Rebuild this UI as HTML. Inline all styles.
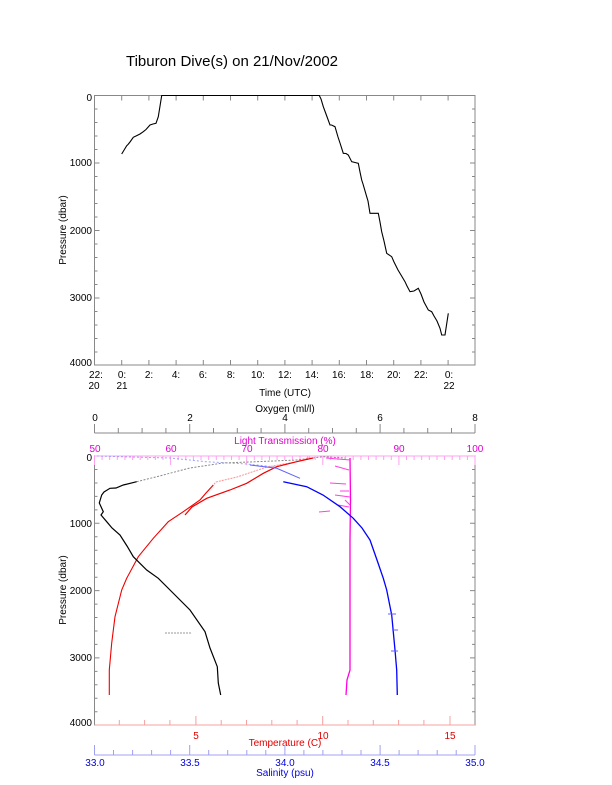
<!DOCTYPE html>
<html><head><meta charset="utf-8"><style>
html,body{margin:0;padding:0;background:#fff}
svg{display:block;font-family:"Liberation Sans",sans-serif}
</style></head><body>
<svg width="612" height="785" viewBox="0 0 612 785" xmlns="http://www.w3.org/2000/svg">
<rect width="612" height="785" fill="#fff"/>
<text x="232" y="66" font-size="15" text-anchor="middle">Tiburon Dive(s) on 21/Nov/2002</text>

<!-- TOP PLOT -->
<rect x="94.5" y="95.5" width="380.5" height="269.5" fill="none" stroke="#888"/>
<g stroke="#888" stroke-width="1">
<path d="M94.5 95.5h5M94.5 109h3M94.5 122.5h3M94.5 136h3M94.5 149.5h3M94.5 163h5M94.5 176.5h3M94.5 190h3M94.5 203.5h3M94.5 217h3M94.5 230.5h5M94.5 244h3M94.5 257.5h3M94.5 271h3M94.5 284.5h3M94.5 298h5M94.5 311.5h3M94.5 325h3M94.5 338.5h3M94.5 352h3
M475 95.5h-5M475 109h-3M475 122.5h-3M475 136h-3M475 149.5h-3M475 163h-5M475 176.5h-3M475 190h-3M475 203.5h-3M475 217h-3M475 230.5h-5M475 244h-3M475 257.5h-3M475 271h-3M475 284.5h-3M475 298h-5M475 311.5h-3M475 325h-3M475 338.5h-3M475 352h-3"/>
<path d="M121.7 365v-5M148.9 365v-5M176.1 365v-5M203.3 365v-5M230.5 365v-5M257.7 365v-5M284.9 365v-5M312.1 365v-5M339.3 365v-5M366.5 365v-5M393.7 365v-5M420.9 365v-5M448.1 365v-5
M121.7 95.5v5M148.9 95.5v5M176.1 95.5v5M203.3 95.5v5M230.5 95.5v5M257.7 95.5v5M284.9 95.5v5M312.1 95.5v5M339.3 95.5v5M366.5 95.5v5M393.7 95.5v5M420.9 95.5v5M448.1 95.5v5"/>
</g>
<g font-size="10" text-anchor="end">
<text x="92" y="101">0</text><text x="92" y="166">1000</text><text x="92" y="234">2000</text><text x="92" y="301">3000</text><text x="92" y="366">4000</text>
</g>
<g font-size="10" text-anchor="middle">
<text x="96" y="378">22:</text><text x="94" y="389">20</text>
<text x="122" y="378">0:</text><text x="122" y="389">21</text>
<text x="149" y="378">2:</text><text x="176" y="378">4:</text><text x="203" y="378">6:</text><text x="231" y="378">8:</text>
<text x="258" y="378">10:</text><text x="285" y="378">12:</text><text x="312" y="378">14:</text><text x="339" y="378">16:</text>
<text x="367" y="378">18:</text><text x="394" y="378">20:</text><text x="421" y="378">22:</text>
<text x="449" y="378">0:</text><text x="449" y="389">22</text>
<text x="285" y="396">Time (UTC)</text>
</g>
<text transform="translate(66,230) rotate(-90)" font-size="10" text-anchor="middle">Pressure (dbar)</text>
<line x1="162" y1="95.5" x2="319" y2="95.5" stroke="#f4a0a0" stroke-width="1"/>
<polyline fill="none" stroke="#000" stroke-width="1.1" points="121.7,154 123.5,151 126.7,145.7 128,144.5 130,142 133.3,137.3 136,136 140,134 143.3,131.7 146,129.5 150,125 153,124 156,123.3 158.3,116.7 161.7,95.5 319.3,95.5 321,99 323.3,106.7 326,114 330,125 331.5,125 335,126.7 338,137 340,143 343.3,153.3 346,153.5 348.3,155 351.7,161.7 355,162.5 358.3,163.3 360,172 361.7,180 363,184 366.7,196.7 368,201 370,213.3 374,213.3 378.3,213.3 380,222 381.7,231.7 384,241 386.7,253.3 391.7,256.7 394,262 398,270 401,275 405,281.7 407,286 410,291.7 414,291 418.3,288.3 421,294 424,302 428.3,310 431.7,311.7 434,316 437,321 440,328.3 441.7,335 445,335 448.3,313.3"/>

<!-- BOTTOM PLOT -->
<rect x="94.5" y="456" width="380.5" height="269" fill="none" stroke="#888"/>
<line x1="94.5" y1="456" x2="475" y2="456" stroke="#ffa0f0"/>
<line x1="94.5" y1="433" x2="475" y2="433" stroke="#888"/>
<g stroke="#888">
<path d="M94.5 433v-9M118.3 433v-5M142.1 433v-5M165.9 433v-5M189.7 433v-9M213.5 433v-5M237.3 433v-5M261.1 433v-5M284.9 433v-9M308.7 433v-5M332.5 433v-5M356.3 433v-5M380.1 433v-9M403.9 433v-5M427.7 433v-5M451.5 433v-5M475 433v-9"/>
</g>
<g font-size="10" text-anchor="middle">
<text x="95" y="421">0</text><text x="190" y="421">2</text><text x="285" y="421">4</text><text x="380" y="421">6</text><text x="475" y="421">8</text>
<text x="285" y="412">Oxygen (ml/l)</text>
</g>
<g stroke="#ffa0f0">
<path d="M94.5 456v9M170.6 456v9M246.7 456v9M322.8 456v9M398.9 456v9M475 456v9
M102.1 456v4M109.7 456v4M117.3 456v4M124.9 456v4M132.6 456v4M140.2 456v4M147.8 456v4M155.4 456v4M163 456v4
M178.2 456v4M185.8 456v4M193.4 456v4M201 456v4M208.7 456v4M216.3 456v4M223.9 456v4M231.5 456v4M239.1 456v4
M254.3 456v4M261.9 456v4M269.5 456v4M277.1 456v4M284.8 456v4M292.4 456v4M300 456v4M307.6 456v4M315.2 456v4
M330.4 456v4M338 456v4M345.6 456v4M353.2 456v4M360.9 456v4M368.5 456v4M376.1 456v4M383.7 456v4M391.3 456v4
M406.5 456v4M414.1 456v4M421.7 456v4M429.3 456v4M437 456v4M444.6 456v4M452.2 456v4M459.8 456v4M467.4 456v4"/>
</g>
<g font-size="10" text-anchor="middle" fill="#e000d0">
<text x="95" y="452">50</text><text x="171" y="452">60</text><text x="247" y="452">70</text><text x="323" y="452">80</text><text x="399" y="452">90</text><text x="475" y="452">100</text>
<text x="285" y="444">Light Transmission (%)</text>
</g>
<g stroke="#888">
<path d="M94.5 469.5h3M94.5 483h3M94.5 496.4h3M94.5 509.9h3M94.5 523.3h5M94.5 536.8h3M94.5 550.2h3M94.5 563.7h3M94.5 577.2h3M94.5 590.6h5M94.5 604.1h3M94.5 617.5h3M94.5 631h3M94.5 644.4h3M94.5 657.9h5M94.5 671.4h3M94.5 684.8h3M94.5 698.3h3M94.5 711.7h3
M475 469.5h-3M475 483h-3M475 496.4h-3M475 509.9h-3M475 523.3h-5M475 536.8h-3M475 550.2h-3M475 563.7h-3M475 577.2h-3M475 590.6h-5M475 604.1h-3M475 617.5h-3M475 631h-3M475 644.4h-3M475 657.9h-5M475 671.4h-3M475 684.8h-3M475 698.3h-3M475 711.7h-3"/>
</g>
<g font-size="10" text-anchor="end">
<text x="92" y="461">0</text><text x="92" y="527">1000</text><text x="92" y="594">2000</text><text x="92" y="661">3000</text><text x="92" y="726">4000</text>
</g>
<text transform="translate(66,590) rotate(-90)" font-size="10" text-anchor="middle">Pressure (dbar)</text>
<line x1="94.5" y1="725" x2="475" y2="725" stroke="#f4a0a0"/>
<g stroke="#f4a0a0">
<path d="M119.3 725v-5M144.6 725v-5M169.9 725v-5M195.9 725v-9M221.2 725v-5M246.5 725v-5M271.8 725v-5M297.1 725v-5M322.7 725v-9M348 725v-5M373.3 725v-5M398.6 725v-5M423.9 725v-5M450 725v-9"/>
</g>
<g font-size="10" text-anchor="middle" fill="#e00000">
<text x="196" y="739">5</text><text x="323" y="739">10</text><text x="450" y="739">15</text>
<text x="285" y="746">Temperature (C)</text>
</g>
<line x1="94.5" y1="755" x2="475" y2="755" stroke="#a0a0f0"/>
<g stroke="#a0a0f0">
<path d="M94.5 755v-10M113.5 755v-5M132.6 755v-5M151.6 755v-5M170.6 755v-5M189.7 755v-10M208.7 755v-5M227.7 755v-5M246.8 755v-5M265.8 755v-5M284.9 755v-10M303.9 755v-5M322.9 755v-5M342 755v-5M361 755v-5M380.1 755v-10M399.1 755v-5M418.1 755v-5M437.2 755v-5M456.2 755v-5M475 755v-10"/>
</g>
<g font-size="10" text-anchor="middle" fill="#0000e0">
<text x="95" y="766">33.0</text><text x="190" y="766">33.5</text><text x="285" y="766">34.0</text><text x="380" y="766">34.5</text><text x="475" y="766">35.0</text>
<text x="285" y="776">Salinity (psu)</text>
</g>

<!-- DATA -->
<polyline fill="none" stroke="#a0a0ff" stroke-width="1" stroke-dasharray="2,2" points="97,456 130,457 170,458 206,461.7 246.7,464 276,467"/>
<polyline fill="none" stroke="#888" stroke-width="1" stroke-dasharray="2,1.5" points="136.7,481.7 156.7,476.7 190,468 223,463 256.7,461.7 296.7,460 323,456.7 345,458"/>
<polyline fill="none" stroke="#ff9090" stroke-width="1" stroke-dasharray="2,1" points="200,500 216,482 237,477 267,467 297,461.7 310,457"/>
<polyline fill="none" stroke="#ff00e0" stroke-width="1.3" points="350,458 350.5,500 350,540 350,573 350,620 350,670 347,680 346,695"/>
<g stroke="#ff40e0" stroke-width="1">
<path d="M326 458L350 460M335 466L349 470M330 483L346 484M340 491L349 491M335 495L350 497M319 512L330 511M345 500L350 505M338 505L349 507"/>
</g>
<polyline fill="none" stroke="#f00000" stroke-width="1.2" points="313,458 296.7,461.7 276.7,466.7 263.3,473.3 246.7,483.3 230,490 206.7,498.3 192,507 185,515"/>
<polyline fill="none" stroke="#f00000" stroke-width="1.1" points="213.3,485 206,493 200,500 183.3,511.7 168.3,521.7 153.3,538.3 138.3,556.7 126.7,578.3 121.7,590 115,616.7 111.7,643 109.3,670 109.3,695"/>
<polyline fill="none" stroke="#6060ff" stroke-width="1" points="250,465 276.7,468.3 300,478.3"/>
<polyline fill="none" stroke="#0000ff" stroke-width="1.3" points="283.3,481.7 306.7,486.7 323,495 340,506.7 353.3,518.3 362,528 370,540 377,560 383.3,578.3 386.7,590 391.7,615 395,650 396.7,670 397.3,695"/>
<g stroke="#6060ff" stroke-width="1"><path d="M388 614h8M392 630h6M391 651h7"/></g>
<polyline fill="none" stroke="#000" stroke-width="1.2" points="136.7,481.7 123.3,485 116,488 110,488.3 104,492 101.7,495 99.3,503 103.3,511.7 101,515 106.7,521.7 112,528 120,535 127,546 133.3,556.7 146.7,570 158.3,578.3 170,590 190,610 205,631.7 210,648 217.3,666.7 218.3,683 220.7,695"/>
<polyline fill="none" stroke="#999" stroke-width="1" stroke-dasharray="2,1" points="165,633 192,633"/>
</svg>
</body></html>
